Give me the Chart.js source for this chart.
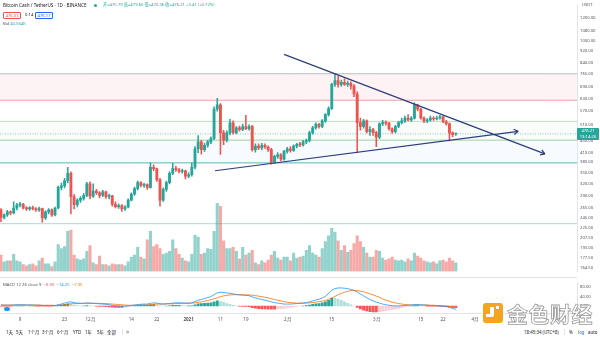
<!DOCTYPE html>
<html lang="zh-CN">
<head>
<meta charset="utf-8">
<title>BCHUSDT 1D</title>
<script src="https://cdn.jsdelivr.net/npm/chart.js@4.4.1/dist/chart.umd.min.js"></script>
<style>
html, body { margin: 0; padding: 0; background: #fff; }
body { position: relative; width: 600px; height: 338px; overflow: hidden;
  font-family: "Noto Sans", "Noto Sans CJK SC", sans-serif; color: #131722; }
canvas { position: absolute; left: 0; }
#priceCanvas { top: 0; }
#macdCanvas { top: 277px; }
.t { position: absolute; white-space: nowrap; font-size: 4.6px; line-height: 6px; }
.up { color: #26a69a; }
.box { position: absolute; white-space: nowrap; font-size: 4.2px; line-height: 5px; padding: 0 1.5px; border: 0.6px solid; border-radius: 1px; }
.sep { position: absolute; background: #e0e3eb; }
.tb { position: absolute; top: 329px; font-size: 4.4px; line-height: 6px; white-space: nowrap; color: #131722; }
</style>
</head>
<body>
<canvas id="priceCanvas" width="600" height="277"></canvas>
<canvas id="macdCanvas" width="600" height="49"></canvas>
<div class="sep" style="left:0;top:277px;width:577px;height:1px"></div>

<!-- legend -->
<div class="t" style="left:3px;top:2px">Bitcoin Cash / TetherUS · 1D · BINANCE</div>
<div style="position:absolute;left:94px;top:3.6px;width:3px;height:3px;border-radius:50%;background:#26a69a"></div>
<div class="t up" style="left:103px;top:2px;font-size:4.2px">开=475.79 高=479.60 低=470.36 收=476.21 +3.41 (+0.72%)</div>
<div class="box" style="left:3px;top:12px;color:#ef5350;border-color:#ef5350">476.03</div>
<div class="t" style="left:25px;top:11.5px;font-size:4.2px">0.14</div>
<div class="box" style="left:35px;top:12px;color:#2962ff;border-color:#2962ff">476.17</div>
<div class="t" style="left:3px;top:20.5px;font-size:4.2px">Vol <span class="up">40.564K</span></div>

<!-- price axis extras -->
<div class="t" style="left:579px;top:1.5px;font-size:4.2px;background:#fff;padding:0 3px;color:#50535e">USDT</div>
<div style="position:absolute;left:577px;top:128px;width:22px;height:12px;background:#26a69a;color:#fff;font-size:4.2px;line-height:5.6px;text-align:center;border-radius:1px">476.21<br>13:14:26</div>

<!-- MACD legend -->
<div class="t" style="left:3px;top:282px;font-size:4.2px;color:#50535e">MACD 12 26 close 9 &nbsp;<span style="color:#ef5350">−6.90</span> &nbsp;<span style="color:#2196f3">−14.25</span> &nbsp;<span style="color:#ff6d00">−7.35</span></div>
<div style="position:absolute;left:4px;top:307px;width:6px;height:4px;border-radius:2px;background:#2196f3"></div>

<!-- bottom toolbar -->
<div class="tb" style="left:6px">1天</div>
<div class="tb" style="left:16px">5天</div>
<div class="tb" style="left:28px">1个月</div>
<div class="tb" style="left:42px">3个月</div>
<div class="tb" style="left:57px">6个月</div>
<div class="tb" style="left:73px">YTD</div>
<div class="tb" style="left:85px">1年</div>
<div class="tb" style="left:97px">5年</div>
<div class="tb" style="left:107px">全部</div>
<div class="sep" style="left:122px;top:329px;width:0.6px;height:6px"></div>
<div class="tb" style="left:126px">⏱</div>
<div class="tb" style="left:524px">18:45:34 (UTC+8)</div>
<div class="sep" style="left:564px;top:329px;width:0.6px;height:6px"></div>
<div class="tb" style="left:569px">%</div>
<div class="tb" style="left:578px;color:#2962ff">log</div>
<div class="tb" style="left:588px">auto</div>

<!-- watermark -->
<div style="position:absolute;left:483px;top:303px;width:20px;height:20px;border-radius:3px;background:#f3a51d"></div>
<div style="position:absolute;left:490px;top:307px;width:4px;height:10px;background:#fff;border-radius:0 0 2px 0"></div>
<div style="position:absolute;left:486px;top:314px;width:4px;height:3px;background:#fff"></div>
<div style="position:absolute;left:496px;top:306px;width:3px;height:3px;background:#fff"></div>
<div style="position:absolute;left:507px;top:299px;font-size:21px;line-height:28px;letter-spacing:0.5px;color:rgba(255,255,255,0.6);-webkit-text-stroke:0.8px #9a9a9a;font-family:'Noto Sans CJK SC',sans-serif;font-weight:bold;white-space:nowrap">金色财经</div>

<script>
// daily candles, 3 Nov 2020 .. 26 Mar 2021 (index 0 = 3 Nov)
const opens = [
  260, 245, 250, 256, 254, 264, 270, 272, 264, 262,
  265, 262, 260, 263, 244, 256, 260, 250, 264, 311,
  315, 328, 348, 289, 271, 281, 285, 292, 320, 290,
  302, 298, 292, 300, 289, 291, 272, 267, 269, 262,
  266, 281, 295, 308, 323, 316, 318, 311, 365, 361,
  330, 281, 306, 323, 348, 361, 358, 353, 355, 340,
  344, 365, 423, 447, 420, 435, 447, 459, 580, 600,
  480, 453, 480, 520, 481, 500, 493, 505, 496, 505,
  420, 432, 426, 435, 429, 420, 380, 398, 403, 389,
  414, 423, 417, 432, 438, 436, 447, 451, 480, 500,
  514, 505, 528, 555, 582, 706, 727, 706, 717, 706,
  712, 697, 654, 521, 505, 528, 485, 493, 481, 464,
  516, 521, 518, 496, 485, 505, 521, 528, 540, 532,
  540, 600, 580, 540, 528, 532, 540, 536, 540, 545,
  524, 516, 480, 475.79
];
const highs = [
  263, 252, 259, 258, 277, 274, 276, 274, 267, 267,
  268, 265, 266, 264, 258, 263, 262, 266, 314, 322,
  334, 365, 352, 294, 284, 289, 296, 324, 325, 320,
  306, 301, 304, 302, 295, 292, 277, 273, 271, 269,
  284, 298, 312, 327, 326, 321, 320, 378, 372, 363,
  334, 310, 327, 352, 377, 368, 362, 360, 357, 350,
  378, 430, 470, 452, 442, 452, 465, 590, 632, 606,
  490, 488, 535, 528, 505, 507, 515, 552, 512, 510,
  440, 440, 442, 440, 433, 424, 402, 410, 407, 418,
  428, 430, 436, 442, 445, 452, 457, 487, 506, 520,
  518, 533, 560, 590, 712, 768, 755, 730, 738, 725,
  720, 705, 665, 540, 535, 532, 505, 498, 486, 520,
  530, 528, 522, 500, 510, 526, 540, 548, 555, 546,
  610, 603, 585, 545, 538, 548, 546, 548, 552, 548,
  530, 520, 484, 479.6
];
const lows = [
  237, 242, 247, 250, 252, 260, 266, 262, 259, 259,
  260, 257, 257, 236, 241, 252, 247, 248, 262, 305,
  310, 322, 252, 262, 266, 276, 281, 289, 284, 287,
  294, 286, 289, 285, 284, 268, 264, 263, 257, 259,
  264, 279, 292, 305, 312, 311, 306, 309, 355, 326,
  268, 278, 301, 320, 344, 353, 349, 348, 333, 336,
  340, 360, 410, 405, 414, 428, 440, 455, 570, 404,
  437, 447, 472, 475, 476, 486, 488, 492, 490, 415,
  412, 420, 420, 424, 414, 374, 376, 392, 384, 386,
  408, 412, 414, 426, 430, 432, 440, 447, 475, 494,
  498, 500, 522, 548, 578, 695, 690, 695, 700, 694,
  680, 640, 410, 490, 498, 480, 470, 470, 430, 458,
  508, 510, 490, 478, 480, 500, 515, 522, 528, 526,
  535, 572, 535, 520, 520, 527, 530, 532, 535, 520,
  510, 450, 466, 470.36
];
const closes = [
  245, 250, 256, 254, 264, 270, 272, 264, 262, 265,
  262, 260, 263, 244, 256, 260, 250, 264, 311, 315,
  328, 348, 289, 271, 281, 285, 292, 320, 290, 302,
  298, 292, 300, 289, 291, 272, 267, 269, 262, 266,
  281, 295, 308, 323, 316, 318, 311, 365, 361, 330,
  281, 306, 323, 348, 361, 358, 353, 355, 340, 344,
  365, 423, 447, 420, 435, 447, 459, 580, 600, 480,
  453, 480, 520, 481, 500, 493, 505, 496, 505, 420,
  432, 426, 435, 429, 420, 380, 398, 403, 389, 414,
  423, 417, 432, 438, 436, 447, 451, 480, 500, 514,
  505, 528, 555, 582, 706, 727, 706, 717, 706, 712,
  697, 654, 521, 505, 528, 485, 493, 481, 464, 516,
  521, 518, 496, 485, 505, 521, 528, 540, 532, 540,
  600, 580, 540, 528, 532, 540, 536, 540, 545, 524,
  516, 480, 472.8, 476.21
];
// volume, thousands of BCH
const volumes = [
  77, 45, 50, 50, 81, 50, 45, 32, 27, 32,
  36, 27, 50, 63, 36, 36, 23, 45, 126, 108,
  117, 189, 194, 77, 59, 54, 59, 95, 122, 41,
  32, 72, 32, 32, 27, 36, 32, 32, 32, 27,
  45, 68, 77, 113, 68, 59, 149, 189, 117, 126,
  108, 81, 86, 95, 149, 108, 81, 63, 50, 45,
  81, 171, 162, 81, 86, 108, 104, 189, 320, 306,
  144, 108, 108, 113, 95, 59, 113, 77, 86, 99,
  41, 32, 50, 41, 54, 77, 95, 63, 54, 68,
  68, 50, 86, 63, 68, 72, 99, 122, 86, 77,
  68, 108, 140, 167, 203, 185, 144, 99, 122, 90,
  99, 131, 167, 140, 113, 86, 68, 68, 99, 95,
  63, 54, 59, 68, 54, 50, 54, 45, 59, 50,
  86, 72, 63, 50, 45, 41, 45, 36, 50, 54,
  45, 63, 50, 40.564
];
// MACD 12 26 9
const macdLine = [
  4, 3, 3, 3, 4, 5, 5, 5, 4, 4,
  4, 3, 3, 2, 2, 2, 2, 2, 5, 8,
  12, 16, 17, 14, 12, 11, 11, 13, 12, 11,
  10, 9, 8, 7, 5, 3, 1, 0, -1, -1,
  0, 2, 4, 6, 7, 8, 8, 11, 13, 12,
  9, 8, 9, 10, 12, 13, 13, 13, 12, 12,
  13, 18, 24, 27, 31, 35, 39, 47, 55, 57,
  56, 54, 53, 50, 48, 46, 45, 44, 43, 38,
  34, 30, 27, 24, 21, 17, 14, 12, 10, 8,
  8, 8, 9, 10, 11, 12, 14, 17, 21, 25,
  28, 33, 40, 52, 66, 72, 75, 75, 74, 72,
  69, 65, 58, 50, 42, 34, 27, 21, 16, 12,
  8, 5, 3, 1, 0, 0, 1, 2, 3, 4,
  6, 6, 5, 4, 3, 2, 2, 1, 0, -1,
  -3, -6, -10, -14.25
];
const signalLine = [
  5, 4, 4, 4, 4, 4, 4, 4, 4, 4,
  4, 4, 4, 3, 3, 3, 3, 2, 3, 4,
  5, 7, 9, 10, 10, 11, 11, 11, 11, 11,
  11, 11, 10, 10, 9, 8, 7, 6, 5, 4,
  3, 3, 3, 3, 4, 5, 5, 6, 7, 8,
  8, 8, 9, 9, 9, 10, 10, 11, 11, 11,
  12, 13, 15, 17, 20, 23, 26, 30, 34, 39,
  42, 44, 46, 47, 47, 47, 47, 46, 46, 45,
  43, 41, 39, 36, 34, 30, 27, 24, 21, 18,
  16, 14, 13, 12, 12, 12, 12, 13, 14, 16,
  18, 20, 23, 28, 33, 40, 47, 52, 57, 61,
  64, 65, 64, 62, 59, 55, 51, 46, 41, 36,
  30, 24, 20, 16, 13, 10, 8, 6, 5, 4,
  4, 4, 4, 4, 4, 3, 3, 2, 2, 1,
  0, -2, -4, -7.35
];
const macdHist = [
  -1, -1, -1, -1, 0, 1, 1, 1, 0, 0,
  0, -1, -1, -1, -1, -1, -1, 0, 2, 4,
  7, 9, 8, 4, 2, 0, 0, 2, 1, 0,
  -1, -2, -2, -3, -4, -5, -6, -6, -6, -5,
  -3, -1, 1, 3, 3, 3, 3, 5, 6, 4,
  1, 0, 0, 1, 3, 3, 3, 2, 1, 1,
  1, 5, 9, 10, 11, 12, 13, 17, 21, 18,
  14, 10, 7, 3, 1, -1, -2, -2, -3, -7,
  -9, -11, -12, -12, -13, -13, -13, -12, -11, -10,
  -8, -6, -4, -2, -1, 0, 2, 4, 7, 9,
  10, 13, 17, 24, 33, 32, 28, 23, 17, 11,
  5, 0, -6, -12, -17, -21, -24, -25, -25, -24,
  -22, -19, -17, -15, -13, -10, -7, -4, -2, 0,
  2, 2, 1, 0, -1, -1, -1, -1, -2, -2,
  -3, -4, -6, -6.9
];

// drawn levels and trend lines (day index, price)
const resistanceLevels = [768, 622];
const supportLevels = [526, 453, 378, 233];
const lastPrice = 476.21;
const fallingTrend = [{ x: 89, y: 896 }, { x: 171, y: 406 }];
const risingTrend = [{ x: 67.3, y: 355 }, { x: 162.6, y: 486 }];

// axis ticks
const priceTicks = [1320, 1200, 1080, 1000, 920, 840, 765, 690, 630, 570, 510, 450, 410, 380, 350, 320, 290, 265, 245, 225, 207.5, 193, 177.5, 164.5];
const macdTicks = [0, 40, 80];
const timeTickDays = [6, 20, 28, 41, 49, 59, 69, 77, 90, 104, 118, 132, 139, 149];
const timeTickLabels = ["9", "23", "12月", "14", "22", "2021", "11", "19", "2月", "15", "3月", "15", "22", "4月"];

const X_MIN = -0.3;
const X_MAX = 181.1;
const UP = "#26a69a";
const DOWN = "#ef5350";
const AXIS_TEXT = "#50535e";
const AXIS_LINE = "#e0e3eb";
const TREND = "#2c3d7c";

Chart.defaults.font.family = "'Noto Sans', sans-serif";
Chart.defaults.animation = false;

const days = closes.map((_, i) => i);
const candleColors = days.map(i => (closes[i] >= opens[i] ? UP : DOWN));
const volumeColors = days.map(i => (closes[i] >= opens[i] ? "rgba(38,166,154,0.5)" : "rgba(239,83,80,0.5)"));
const histColors = macdHist.map((v, i) => {
	const prev = i > 0 ? macdHist[i - 1] : v;
	if (v >= 0) return v >= prev ? "#26a69a" : "#b2dfdb";
	return v <= prev ? "#ff5252" : "#ffcdd2";
});

function flatLine(price, color, extra) {
	return Object.assign({
		type: "line",
		data: [{ x: X_MIN, y: price }, { x: X_MAX, y: price }],
		borderColor: color,
		borderWidth: 1,
		pointRadius: 0,
		fill: false,
		order: 20
	}, extra || {});
}

function trendLine(points) {
	return {
		type: "line",
		data: points,
		borderColor: TREND,
		borderWidth: 1.2,
		pointRadius: 0,
		fill: false,
		order: 0,
		arrowEnd: true
	};
}

// open arrow heads at the end of the trend lines
const arrowHeads = {
	id: "arrowHeads",
	afterDatasetsDraw(chart) {
		const ctx = chart.ctx;
		chart.data.datasets.forEach((ds, di) => {
			if (!ds.arrowEnd) return;
			const pts = chart.getDatasetMeta(di).data;
			const a = pts[pts.length - 2];
			const b = pts[pts.length - 1];
			const ang = Math.atan2(b.y - a.y, b.x - a.x);
			ctx.save();
			ctx.strokeStyle = ds.borderColor;
			ctx.lineWidth = ds.borderWidth;
			ctx.beginPath();
			[-1, 1].forEach(s => {
				ctx.moveTo(b.x, b.y);
				ctx.lineTo(b.x - 5 * Math.cos(ang + s * 0.55), b.y - 5 * Math.sin(ang + s * 0.55));
			});
			ctx.stroke();
			ctx.restore();
		});
	}
};

const xScale = { type: "linear", min: X_MIN, max: X_MAX, display: false, offset: false };

new Chart(document.getElementById("priceCanvas"), {
	type: "bar",
	data: {
		datasets: [
			flatLine(resistanceLevels[0], "#b8bcc6", { fill: { target: { value: resistanceLevels[1] }, above: "rgba(242,54,69,0.06)", below: "rgba(242,54,69,0.06)" } }),
			flatLine(resistanceLevels[1], "#f4a3a3"),
			flatLine(supportLevels[0], "#bcdcc2", { fill: { target: { value: supportLevels[1] }, above: "rgba(76,175,80,0.035)", below: "rgba(76,175,80,0.035)" } }),
			flatLine(supportLevels[1], "#9fd1a3", { fill: { target: { value: supportLevels[2] }, above: "rgba(33,150,243,0.035)", below: "rgba(33,150,243,0.035)" } }),
			flatLine(supportLevels[2], "#5fb8ad"),
			flatLine(supportLevels[3], "#a9dcd6"),
			flatLine(lastPrice, "rgba(38,166,154,0.55)", { borderDash: [1, 1.5] }),
			{
				type: "bar",
				data: days.map(i => ({ x: i, y: volumes[i] })),
				yAxisID: "vol",
				backgroundColor: volumeColors,
				barThickness: 2.4,
				grouped: false,
				order: 15
			},
			{
				type: "bar",
				data: days.map(i => ({ x: i, y: [lows[i], highs[i]] })),
				backgroundColor: candleColors,
				barThickness: 0.9,
				grouped: false,
				order: 4
			},
			{
				type: "bar",
				data: days.map(i => ({ x: i, y: [opens[i], closes[i]] })),
				backgroundColor: candleColors,
				barThickness: 2.2,
				minBarLength: 1,
				grouped: false,
				order: 3
			},
			trendLine(fallingTrend),
			trendLine(risingTrend)
		]
	},
	options: {
		responsive: false,
		layout: { padding: 0 },
		plugins: { legend: { display: false }, tooltip: { enabled: false } },
		scales: {
			x: xScale,
			y: {
				type: "logarithmic",
				position: "right",
				min: 159.3,
				max: 1322,
				afterBuildTicks: s => { s.ticks = priceTicks.map(v => ({ value: v })); },
				afterFit: s => { s.width = 23; },
				grid: { display: false, drawTicks: false },
				border: { display: true, color: AXIS_LINE },
				ticks: { autoSkip: false, padding: 3, color: AXIS_TEXT, font: { size: 4.2 }, callback: v => Number(v).toFixed(2) }
			},
			vol: { type: "linear", display: false, min: 0, max: 1250 }
		}
	},
	plugins: [arrowHeads]
});

new Chart(document.getElementById("macdCanvas"), {
	type: "bar",
	data: {
		datasets: [
			{
				type: "line",
				data: days.map(i => ({ x: i, y: macdLine[i] })),
				borderColor: "#2196f3",
				borderWidth: 0.8,
				pointRadius: 0,
				order: 1
			},
			{
				type: "line",
				data: days.map(i => ({ x: i, y: signalLine[i] })),
				borderColor: "#ff6d00",
				borderWidth: 0.8,
				pointRadius: 0,
				order: 2
			},
			{
				type: "bar",
				data: days.map(i => ({ x: i, y: macdHist[i] })),
				backgroundColor: histColors,
				barThickness: 2.2,
				grouped: false,
				order: 3
			}
		]
	},
	options: {
		responsive: false,
		layout: { padding: 0 },
		plugins: { legend: { display: false }, tooltip: { enabled: false } },
		scales: {
			x: {
				type: "linear",
				min: X_MIN,
				max: X_MAX,
				offset: false,
				afterBuildTicks: s => { s.ticks = timeTickDays.map(v => ({ value: v })); },
				afterFit: s => { s.height = 13; },
				grid: { display: false, drawTicks: false },
				border: { display: true, color: AXIS_LINE },
				ticks: {
					autoSkip: false,
					maxRotation: 0,
					padding: 4,
					color: AXIS_TEXT,
					font: ctx => ({ size: 4.5, weight: ctx.tick && ctx.tick.value === 59 ? "bold" : "normal" }),
					callback: v => timeTickLabels[timeTickDays.indexOf(v)]
				}
			},
			y: {
				type: "linear",
				position: "right",
				min: -29.2,
				max: 97.6,
				afterBuildTicks: s => { s.ticks = macdTicks.map(v => ({ value: v })); },
				afterFit: s => { s.width = 23; },
				grid: { display: false, drawTicks: false },
				border: { display: true, color: AXIS_LINE },
				ticks: { autoSkip: false, padding: 3, color: AXIS_TEXT, font: { size: 4.2 }, callback: v => Number(v).toFixed(2) }
			}
		}
	}
});
</script>
</body>
</html>
